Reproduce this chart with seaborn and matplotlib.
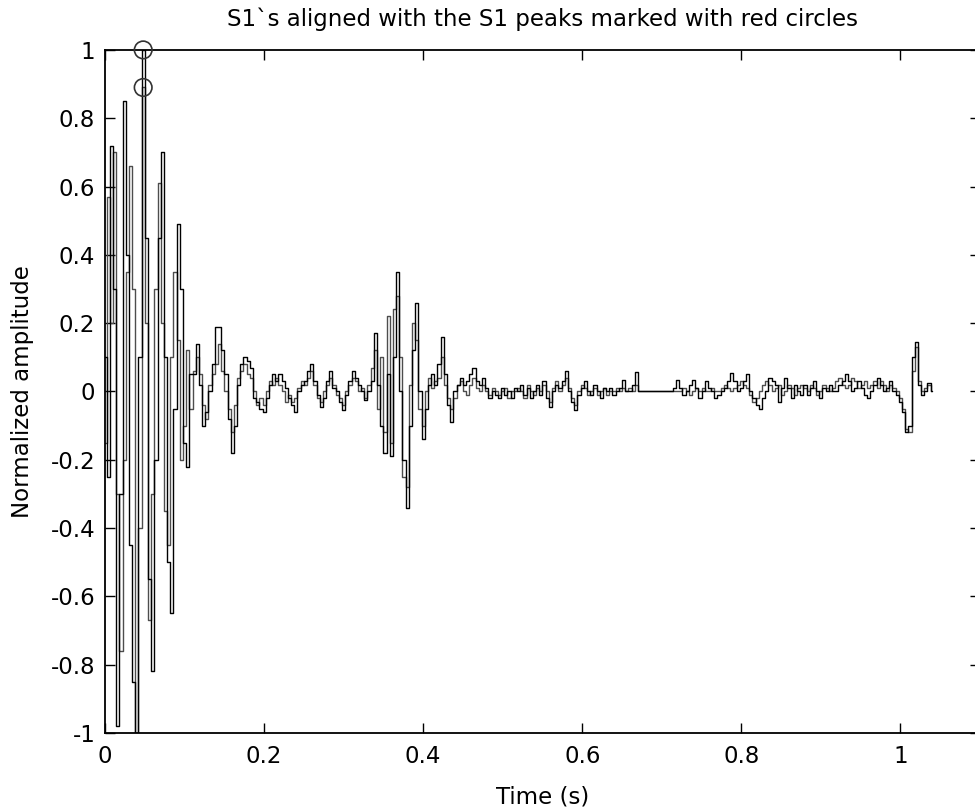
import numpy as np
import pandas as pd
import matplotlib
matplotlib.use("Agg")
import matplotlib.pyplot as plt
import seaborn as sns

# Sampling interval of the aligned S1 segments (s)
dt = 0.004

# First aligned S1 segment (normalized amplitude)
s1_a = [
    0.10, -0.25, 0.72, 0.30, -0.98, -0.30, 0.85, 0.40, -0.45, -0.85,
    -1.00, 0.10, 1.00, 0.45, -0.55, -0.82, -0.20, 0.45, 0.70, 0.10,
    -0.50, -0.65, -0.05, 0.49, 0.30, -0.15, -0.22, 0.05, 0.05, 0.14,
    0.02, -0.10, -0.06, 0.00, 0.08, 0.19, 0.19, 0.12, 0.05, -0.08,
    -0.18, -0.10, 0.02, 0.08, 0.10, 0.09, 0.07, -0.02, -0.03, -0.05,
    -0.06, -0.02, 0.02, 0.05, 0.03, 0.05, 0.03, 0.01, -0.02, -0.04,
    -0.06, 0.00, 0.02, 0.03, 0.06, 0.08, 0.03, -0.01, -0.045, -0.02,
    0.03, 0.06, 0.01, 0.00, -0.03, -0.055, -0.01, 0.03, 0.06, 0.04,
    0.02, 0.00, -0.025, 0.00, 0.03, 0.17, 0.02, -0.10, -0.18, 0.05,
    -0.19, 0.10, 0.35, 0.00, -0.20, -0.34, -0.10, 0.12, 0.26, 0.00,
    -0.14, -0.05, 0.02, 0.05, 0.02, 0.08, 0.16, 0.05, -0.04, -0.09,
    0.00, 0.02, 0.04, 0.02, 0.03, 0.05, 0.07, 0.03, 0.02, 0.04,
    0.01, -0.02, 0.00, -0.01, -0.02, 0.01, -0.01, 0.00, -0.02, 0.01,
    0.00, 0.02, -0.01, 0.01, -0.02, 0.00, 0.02, -0.01, 0.03, -0.02,
    -0.045, 0.00, 0.02, 0.01, 0.03, 0.06, 0.00, -0.03, -0.055, -0.01,
    0.01, 0.03, 0.00, -0.01, 0.02, 0.00, -0.02, 0.01, 0.00, 0.01,
    -0.01, 0.00, 0.01, 0.034, 0.00, 0.00, 0.02, 0.057, 0.00, 0.00,
    0.00, 0.00, 0.00, 0.00, 0.00, 0.00, 0.00, 0.00, 0.00, 0.01,
    0.034, 0.01, -0.01, 0.00, 0.02, 0.034, 0.01, -0.02, 0.00, 0.03,
    0.01, 0.00, -0.02, -0.01, 0.00, 0.01, 0.03, 0.054, 0.03, 0.00,
    0.01, 0.03, 0.05, 0.00, -0.02, -0.04, -0.05, -0.02, 0.00, 0.04,
    0.03, 0.02, -0.03, 0.01, 0.04, 0.01, -0.02, 0.02, 0.00, -0.01,
    0.02, -0.01, 0.01, 0.03, 0.00, -0.02, 0.01, 0.00, 0.02, 0.00,
    0.00, 0.02, 0.03, 0.05, 0.03, 0.00, 0.01, 0.03, 0.01, -0.01,
    -0.02, 0.00, 0.02, 0.04, 0.02, 0.00, 0.01, 0.03, 0.00, -0.01,
    -0.03, -0.06, -0.12, -0.10, 0.10, 0.145, 0.02, -0.01, 0.00, 0.025,
    0.00,
]

# Second aligned S1 segment (normalized amplitude)
s1_b = [
    -0.15, 0.57, 0.20, 0.70, -0.30, -0.76, -0.20, 0.35, 0.66, 0.30,
    -1.00, -0.40, 0.89, 0.20, -0.67, -0.30, 0.30, 0.61, 0.20, -0.35,
    -0.45, 0.10, 0.35, 0.15, -0.20, -0.10, 0.12, -0.05, 0.06, 0.10,
    0.05, -0.04, -0.08, 0.02, 0.05, 0.08, 0.14, 0.06, 0.00, -0.05,
    -0.12, -0.04, 0.04, 0.06, 0.08, 0.05, 0.04, 0.00, -0.04, -0.02,
    -0.04, 0.00, 0.03, 0.02, 0.04, 0.02, 0.00, -0.03, -0.01, -0.03,
    -0.02, 0.01, 0.03, 0.02, 0.04, 0.06, 0.02, -0.02, -0.03, 0.00,
    0.02, 0.04, 0.02, -0.01, -0.02, -0.04, 0.00, 0.02, 0.04, 0.03,
    0.00, 0.01, -0.02, 0.02, 0.07, 0.12, -0.05, 0.10, -0.12, 0.22,
    -0.15, 0.24, 0.28, 0.10, -0.25, -0.28, 0.02, 0.20, 0.15, -0.05,
    -0.10, 0.00, 0.04, 0.01, 0.03, 0.04, 0.10, 0.02, -0.02, -0.05,
    -0.02, 0.02, 0.03, 0.00, -0.01, 0.02, 0.04, 0.01, 0.00, 0.02,
    0.00, -0.01, 0.01, 0.00, -0.01, 0.00, 0.01, -0.02, 0.00, 0.00,
    0.01, 0.00, -0.02, 0.02, 0.00, -0.01, 0.01, 0.00, 0.02, 0.00,
    -0.03, 0.01, 0.03, 0.00, 0.02, 0.04, 0.01, -0.02, -0.04, 0.00,
    0.02, 0.01, -0.01, 0.00, 0.01, -0.01, 0.00, 0.01, -0.01, 0.00,
    0.00, 0.01, 0.00, 0.01, 0.00, 0.01, 0.00, 0.02, 0.00, 0.00,
    0.00, 0.00, 0.00, 0.00, 0.00, 0.00, 0.00, 0.00, 0.00, 0.00,
    0.00, 0.00, 0.01, 0.00, -0.01, 0.00, 0.01, 0.00, 0.01, 0.00,
    0.00, 0.01, 0.00, 0.00, 0.01, 0.02, 0.01, 0.00, 0.01, 0.02,
    0.03, 0.02, 0.01, -0.01, -0.03, -0.02, 0.00, 0.02, 0.03, 0.02,
    0.00, 0.01, 0.02, -0.01, 0.00, 0.02, 0.01, -0.01, 0.01, 0.02,
    0.01, 0.00, 0.02, 0.01, -0.01, 0.00, 0.02, 0.01, 0.00, 0.01,
    0.03, 0.04, 0.02, 0.01, 0.02, 0.04, 0.03, 0.01, 0.02, 0.03,
    0.01, 0.02, 0.03, 0.01, 0.03, 0.02, 0.00, 0.02, 0.01, 0.00,
    -0.02, -0.05, -0.11, -0.12, 0.06, 0.13, 0.03, 0.00, 0.01, 0.02,
    0.00,
]

x_ticks = [0, 0.2, 0.4, 0.6, 0.8, 1.0]
x_tick_labels = ["0", "0.2", "0.4", "0.6", "0.8", "1"]
y_ticks = [-1, -0.8, -0.6, -0.4, -0.2, 0, 0.2, 0.4, 0.6, 0.8, 1]
y_tick_labels = ["-1", "-0.8", "-0.6", "-0.4", "-0.2", "0",
                 "0.2", "0.4", "0.6", "0.8", "1"]

sns.set_style("ticks", {"xtick.direction": "in", "ytick.direction": "in"})
plt.rcParams["font.family"] = ["DejaVu Sans"]
plt.rcParams["text.color"] = "black"
plt.rcParams["axes.labelcolor"] = "black"

frames = []
for name, vals in (("a", s1_a), ("b", s1_b)):
    frames.append(pd.DataFrame({
        "time": np.arange(len(vals)) * dt,
        "amp": vals,
        "segment": name,
    }))
df = pd.concat(frames, ignore_index=True)

# S1 peak of each segment
peaks = df.loc[df.groupby("segment")["amp"].idxmax()]

fig = plt.figure(figsize=(9.75, 8.09), dpi=100)
ax = fig.add_axes([0.1077, 0.094, 0.8974, 0.8443])

sns.lineplot(data=df[df.segment == "b"], x="time", y="amp", ax=ax,
             color="#4d4d4d", lw=1.0, drawstyle="steps-mid", estimator=None)
sns.lineplot(data=df[df.segment == "a"], x="time", y="amp", ax=ax,
             color="black", lw=1.0, drawstyle="steps-mid", estimator=None)
sns.scatterplot(data=peaks, x="time", y="amp", ax=ax, marker="o", s=160,
                facecolors="none", edgecolor="#333333", linewidth=1.2,
                zorder=5, clip_on=False)

ax.set_xlim(0, 1.1)
ax.set_ylim(-1, 1)
ax.set_xticks(x_ticks)
ax.set_xticklabels(x_tick_labels)
ax.set_yticks(y_ticks)
ax.set_yticklabels(y_tick_labels)
ax.tick_params(axis="both", which="both", direction="in", length=7,
               width=1, labelsize=16.5, top=True, right=True,
               colors="black")
ax.tick_params(axis="x", pad=9)
ax.tick_params(axis="y", pad=7)
for sp in ax.spines.values():
    sp.set_visible(True)
    sp.set_linewidth(1.3)
    sp.set_color("black")

ax.set_xlabel("Time (s)", fontsize=16.5, labelpad=12, color="black")
ax.set_ylabel("Normalized amplitude", fontsize=16.5, labelpad=12,
              color="black")
ax.set_title("S1`s aligned with the S1 peaks marked with red circles",
             fontsize=16.5, pad=17, color="black")

fig.savefig("out.png", dpi=100)
